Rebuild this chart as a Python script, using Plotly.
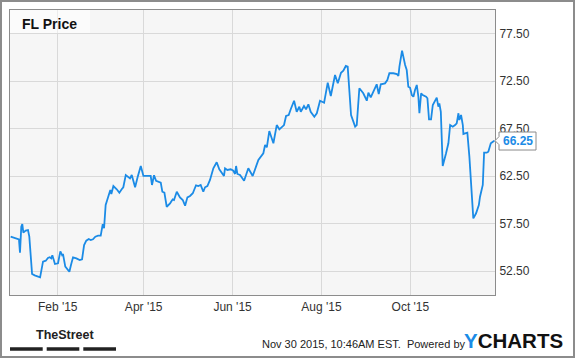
import pandas as pd
import plotly.graph_objects as go

# ---- data ----
start_date = "2015-01-01"
day_offsets = [-1.3, 3.3, 4.4, 5.1, 6.0, 6.7, 7.4, 9.0, 10.6, 11.5, 13.4, 15.2, 18.9, 20.9, 22.8, 24.3, 25.5, 26.6, 27.3, 28.3,
               29.1, 31.2, 32.8, 34.0, 34.6, 36.2, 39.0, 40.1, 41.5, 43.8, 46.1, 47.7, 49.1, 50.6, 52.3, 53.6, 55.2, 56.8, 58.7, 60.5,
               61.9, 62.8, 63.9, 64.8, 66.2, 67.1, 67.8, 69.2, 71.5, 73.3, 74.9, 76.0, 77.7, 79.5, 80.6, 81.8, 82.9, 84.1, 85.9, 88.0,
               89.8, 92.1, 94.8, 95.7, 97.1, 98.5, 100.0, 101.7, 102.8, 104.2, 105.8, 108.1, 109.9, 110.8, 112.7, 114.9, 116.8, 118.4, 120.0, 121.8,
               123.7, 125.9, 127.5, 129.1, 130.9, 132.1, 133.7, 135.5, 137.8, 140.1, 141.9, 143.6, 145.1, 145.8, 147.4, 149.7, 151.5, 152.7, 153.4, 154.3,
               156.1, 158.9, 161.8, 164.8, 168.7, 172.1, 173.3, 174.5, 176.2, 179.0, 181.3, 183.1, 186.3, 187.7, 189.5, 190.9, 193.2, 195.0, 196.8, 197.8,
               200.0, 201.4, 203.0, 204.6, 207.1, 208.8, 211.0, 213.8, 216.3, 218.4, 221.3, 223.2, 225.4, 227.0, 228.7, 230.0, 232.3, 235.1, 236.2, 238.0,
               240.7, 243.1, 244.2, 245.8, 248.3, 249.9, 251.3, 252.7, 255.6, 257.2, 258.6, 261.3, 263.7, 264.8, 265.5, 267.3, 269.4, 270.5, 271.6, 272.8,
               274.0, 275.1, 276.2, 277.4, 278.5, 279.2, 280.4, 281.5, 283.8, 284.7, 285.8, 287.2, 288.4, 290.0, 291.1, 292.2, 292.9, 293.9, 295.2, 297.5,
               299.1, 300.3, 302.1, 303.7, 304.8, 306.0, 306.6, 307.8, 309.0, 309.4, 311.2, 312.1, 313.5, 314.5, 315.1, 316.2, 318.1, 320.0, 320.8, 322.0,
               322.7, 323.6, 325.4, 326.5, 328.2, 329.6, 330.7]
prices = [56.14, 55.97, 55.86, 54.45, 57.19, 57.47, 56.56, 56.77, 56.84, 56.14, 52.21, 52.07, 51.86, 53.51, 53.61, 53.89, 53.97, 53.86, 54.18, 53.68,
          53.26, 53.34, 54.60, 54.21, 54.32, 52.98, 52.45, 53.16, 53.97, 53.86, 53.68, 53.76, 55.26, 55.72, 55.89, 55.79, 55.86, 56.14, 56.24, 56.24,
          57.47, 57.02, 59.47, 59.93, 60.63, 61.05, 60.63, 61.47, 61.13, 60.77, 61.13, 61.34, 62.63, 62.45, 62.28, 62.63, 62.11, 61.34, 62.45, 63.58,
          62.53, 62.53, 62.53, 61.58, 62.60, 62.03, 61.93, 61.82, 60.87, 60.77, 59.29, 59.65, 60.07, 60.00, 60.87, 60.28, 60.00, 59.40, 60.28, 60.42,
          60.71, 61.55, 61.47, 61.58, 60.87, 61.34, 61.47, 62.11, 63.34, 63.97, 63.23, 62.81, 62.53, 63.34, 63.16, 63.23, 63.08, 62.74, 63.58, 62.74,
          62.63, 62.03, 63.34, 62.53, 64.21, 64.92, 65.79, 65.55, 67.26, 65.97, 67.89, 67.44, 67.89, 68.84, 68.95, 69.55, 70.45, 69.29, 69.82, 69.29,
          69.89, 69.55, 70.07, 69.29, 68.77, 69.13, 70.45, 70.24, 72.35, 70.95, 73.16, 72.28, 73.40, 73.61, 74.11, 74.03, 68.95, 67.72, 67.89, 71.76,
          71.23, 70.45, 71.29, 70.81, 71.65, 72.18, 71.16, 72.18, 72.28, 72.63, 73.34, 73.34, 73.26, 73.05, 74.03, 75.72, 74.21, 73.68, 71.93, 71.82,
          71.05, 70.87, 71.58, 72.11, 70.87, 69.13, 71.23, 71.05, 70.87, 70.71, 68.49, 68.49, 70.00, 70.53, 70.77, 69.82, 70.18, 69.29, 63.58, 64.92,
          65.97, 67.89, 67.72, 67.89, 68.07, 69.13, 68.42, 68.95, 67.89, 66.95, 67.02, 67.08, 64.56, 61.93, 61.40, 58.07, 58.60, 59.47, 60.35, 61.40,
          61.58, 64.98, 64.98, 65.08, 65.97, 66.14, 66.25]
series_name = "FL Price"
y_ticks = [52.5, 57.5, 62.5, 67.5, 72.5, 77.5]
y_range = [50, 80]
x_range = ["2014-12-30 06:00", "2015-11-28 02:00"]

n = min(len(day_offsets), len(prices))
dates = pd.Timestamp(start_date) + pd.to_timedelta(day_offsets[:n], unit="D")
vals = prices[:n]

# ---- layout geometry ----
W, H = 575, 358
ML, MR, MT, MB = 10, 80, 10, 63
PW, PH = W - ML - MR, H - MT - MB
FONT = "Liberation Sans, Arial, sans-serif"
BLUE = "#1b8be6"


def px(x):
    return (x - ML) / PW


def py(y):
    return (H - MB - y) / PH


fig = go.Figure()
fig.add_trace(go.Scatter(x=dates, y=vals, mode="lines", line=dict(color=BLUE, width=1.8),
                         name=series_name, hoverinfo="x+y"))

last = vals[-1]
last_p = (last - y_range[0]) / (y_range[1] - y_range[0])
bx0, bx1 = 1 + 4 / PW, 1 + 41 / PW
by_top = last_p + 8.6 / PH
by_bot = last_p - 9.4 / PH
tri = 4 / PH
callout_path = (f"M {bx0},{by_top} L {bx1},{by_top} L {bx1},{by_bot} L {bx0},{by_bot} "
                f"L {bx0},{last_p - tri} L 1,{last_p} L {bx0},{last_p + tri} Z")

shapes = [
    dict(type="rect", xref="paper", yref="paper", x0=0, x1=px(90), y0=py(33), y1=1,
         fillcolor="rgba(255,255,255,0.5)", line=dict(width=0), layer="above"),
    dict(type="path", xref="paper", yref="paper", path=callout_path,
         fillcolor="white", line=dict(color="#8c8c8c", width=1), layer="above"),
    dict(type="rect", xref="paper", yref="paper", x0=px(10), x1=px(42.7), y0=py(350.7), y1=py(347.3),
         fillcolor="#222", line=dict(width=0)),
    dict(type="rect", xref="paper", yref="paper", x0=px(46.7), x1=px(79.3), y0=py(350.7), y1=py(347.3),
         fillcolor="#222", line=dict(width=0)),
    dict(type="rect", xref="paper", yref="paper", x0=px(83.3), x1=px(116), y0=py(350.7), y1=py(347.3),
         fillcolor="#222", line=dict(width=0)),
    dict(type="rect", xref="paper", yref="paper", x0=px(1), x1=px(574), y0=py(357), y1=py(1),
         line=dict(color="#8c8c8c", width=2), fillcolor="rgba(0,0,0,0)"),
]

annotations = [
    dict(xref="paper", yref="paper", x=px(20), y=py(23.5), xanchor="left", yanchor="middle",
         text="<b>" + series_name + "</b>", showarrow=False, font=dict(family=FONT, size=14, color="#111")),
    dict(xref="paper", yref="paper", x=(bx0 + bx1) / 2, y=last_p, xanchor="center", yanchor="middle",
         text=f"<b>{last:.2f}</b>", showarrow=False, font=dict(family=FONT, size=12, color=BLUE)),
    dict(xref="paper", yref="paper", x=px(34), y=py(335), xanchor="left", yanchor="middle",
         text="<b>TheStreet</b>", showarrow=False,
         font=dict(family=FONT, size=12.5, color="#222")),
    dict(xref="paper", yref="paper", x=px(260), y=py(344), xanchor="left", yanchor="middle",
         text="Nov 30 2015, 10:46AM EST.  Powered by", showarrow=False,
         font=dict(family=FONT, size=11, color="#222")),
    dict(xref="paper", yref="paper", x=px(462), y=py(340.5), xanchor="left", yanchor="middle",
         text=f"<b><span style='color:{BLUE}'>Y</span>CHARTS</b>", showarrow=False,
         font=dict(family=FONT, size=20.5, color="#111")),
]

fig.update_layout(
    width=W, height=H, autosize=False,
    margin=dict(l=ML, r=MR, t=MT, b=MB, pad=0),
    paper_bgcolor="white", plot_bgcolor="#f6f6f6",
    showlegend=False,
    font=dict(family=FONT, size=12, color="#333"),
    shapes=shapes, annotations=annotations,
    xaxis=dict(type="date", range=x_range, tickformat="%b '%y", dtick="M2", tick0="2015-02-01",
               showgrid=True, gridcolor="#d9d9d9", gridwidth=1, ticks="",
               showline=True, linecolor="#8c8c8c", linewidth=1, mirror=True, zeroline=False,
               tickfont=dict(family=FONT, size=12, color="#333"), ticklabelstandoff=1),
    yaxis=dict(range=y_range, tickvals=y_ticks, tickformat=".2f", side="right",
               showgrid=True, gridcolor="#d9d9d9", gridwidth=1, ticks="",
               showline=True, linecolor="#8c8c8c", linewidth=1, mirror=True, zeroline=False,
               tickfont=dict(family=FONT, size=12, color="#333"), ticklabelstandoff=1),
)

fig.write_html("out.html")
